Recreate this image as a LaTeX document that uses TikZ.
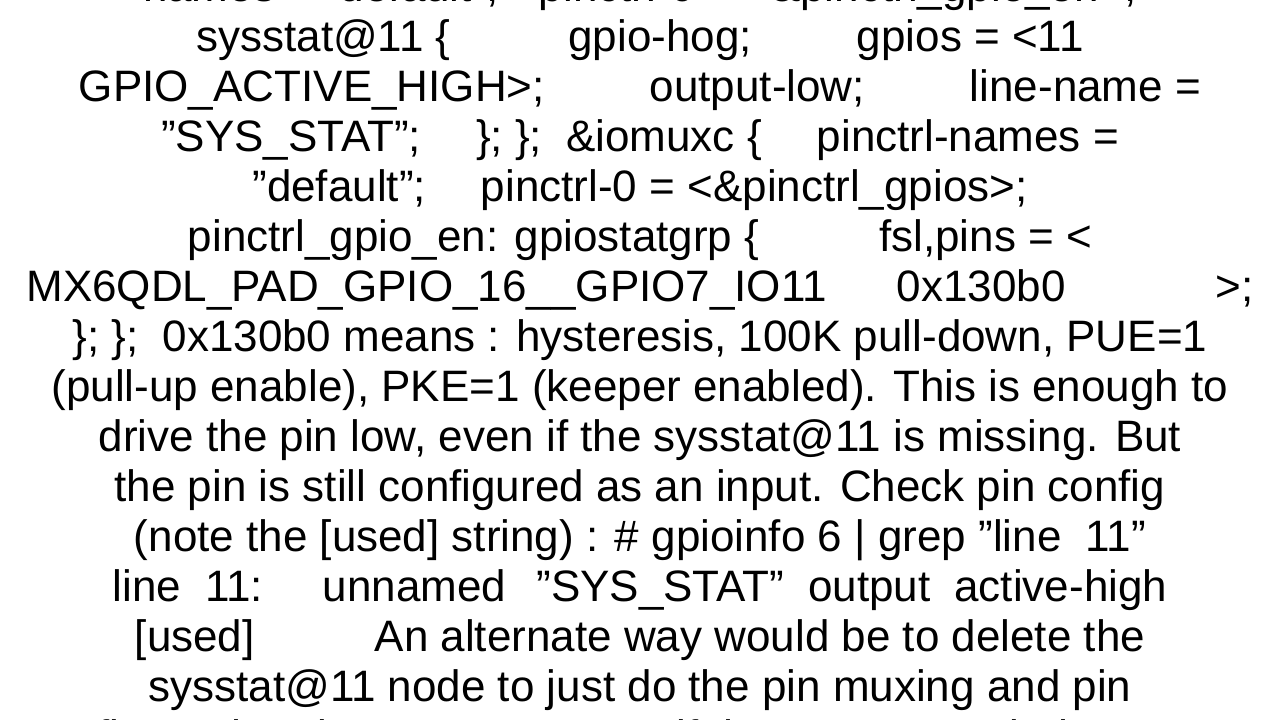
\documentclass[tikz,border=0pt]{standalone}
\usepackage{fontspec}
\setmainfont{Liberation Sans}[Ligatures=ResetAll]
\newcommand{\dq}{\symbol{34}}
\begin{document}
\begin{tikzpicture}[x=1pt,y=1pt,ln/.style={anchor=base,inner sep=0pt,font=\fontsize{44}{50}\selectfont}]
\useasboundingbox (0,0) rectangle (1280,720);
\fill[white] (0,0) rectangle (1280,720);
\node[ln] (l0) at (640,720-2) {names = \dq default\dq;\hspace{40pt}pinctrl-0 = <\&pinctrl\_gpio\_en>;};
\node[ln] (l1) at (640,720-52) {sysstat@11 \{\hspace{118pt}gpio-hog;\hspace{105pt}gpios = <11};
\node[ln] (l2) at (640,720-102) {GPIO\_ACTIVE\_HIGH>;\hspace{105pt}output-low;\hspace{105pt}line-name =};
\node[ln] (l3) at (640,720-152) {\dq SYS\_STAT\dq;\hspace{55pt}\}; \};\hspace{24pt}\&iomuxc \{\hspace{55pt}pinctrl-names =};
\node[ln] (l4) at (640,720-202) {\dq default\dq;\hspace{55pt}pinctrl-0 = <\&pinctrl\_gpios>;};
\node[ln] (l5) at (640,720-252) {pinctrl\_gpio\_en: gpiostatgrp \{\hspace{120pt}fsl,pins = <};
\node[ln] (l6) at (640,720-302) {MX6QDL\_PAD\_GPIO\_16\_\_GPIO7\_IO11\hspace{70pt}0x130b0\hspace{150pt}>;};
\node[ln] (l7) at (640,720-352) {\}; \};\hspace{24pt}0x130b0 means : hysteresis, 100K pull-down, PUE=1};
\node[ln] (l8) at (640,720-402) {(pull-up enable), PKE=1 (keeper enabled). This is enough to};
\node[ln] (l9) at (640,720-452) {drive the pin low, even if the sysstat@11 is missing. But};
\node[ln] (l10) at (640,720-502) {the pin is still configured as an input. Check pin config};
\node[ln] (l11) at (640,720-552) {(note the [used] string) : \# gpioinfo 6 | grep \dq line\hspace{24pt}11\dq};
\node[ln] (l12) at (640,720-602) {line\hspace{24pt}11:\hspace{60pt}unnamed\hspace{30pt}\dq SYS\_STAT\dq\hspace{24pt}output\hspace{24pt}active-high};
\node[ln] (l13) at (640,720-652) {[used]\hspace{120pt}An alternate way would be to delete the};
\node[ln] (l14) at (640,720-702) {sysstat@11 node to just do the pin muxing and pin};
\node[ln] (l15) at (640,720-752) {configure the pin as output, even if there are no gpio-hog. Note};
\end{tikzpicture}
\end{document}
